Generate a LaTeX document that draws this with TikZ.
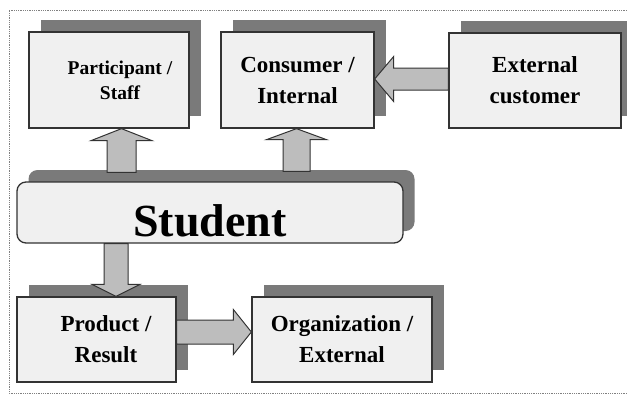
\documentclass[tikz,border=0pt]{standalone}
\usepackage{fontspec}
\setmainfont{Liberation Serif}
\usetikzlibrary{calc}
\usetikzlibrary{shadows}

\definecolor{boxfill}{HTML}{F0F0F0}
\definecolor{shadowgray}{HTML}{7A7A7A}
\definecolor{arrowfill}{HTML}{BDBDBD}
\definecolor{linegray}{HTML}{333333}

\tikzset{
  box/.style={draw=linegray, line width=1.3pt, fill=boxfill, inner sep=0pt,
    drop shadow={shadow xshift=11.5pt, shadow yshift=12pt, fill=shadowgray, opacity=1}},
  boxtext/.style={font=\bfseries\fontsize{23}{31}\selectfont, align=center},
  blockarrow/.style={draw=linegray, line width=1pt, fill=arrowfill, line join=miter},
  frame/.style={gray, densely dotted, line width=0.8pt}
}

\begin{document}
\begin{tikzpicture}[x=1pt, y=-1pt]
\newcommand{\BlockArrow}[5]{% tail, tip, shaft half width, head half width, head length
  \coordinate (hb) at ($(#2)!#5!(#1)$);
  \draw[blockarrow] ($(#1)!#3!90:(#2)$) -- ($(hb)!#3!90:(#2)$) -- ($(hb)!#4!90:(#2)$) -- (#2)
    -- ($(hb)!#4!-90:(#2)$) -- ($(hb)!#3!-90:(#2)$) -- ($(#1)!#3!-90:(#2)$) -- cycle;
}
\useasboundingbox (0,0) rectangle (627,397);

\draw[frame] (627,10) -- (9,10) -- (9,393) -- (627,393);% dotted frame

% top row
\node[box, minimum width=160pt, minimum height=96pt] (Participant) at (109,80) {};
\node[boxtext, font=\bfseries\fontsize{19.5}{25}\selectfont] (Participant-text) at ([xshift=11pt]Participant.center) {Participant /\\Staff};
\node[box, boxtext, minimum width=153pt, minimum height=96pt] (Consumer) at (297.5,80) {Consumer /\\Internal};
\node[box, boxtext, minimum width=172pt, minimum height=95pt] (External) at (535,80.5) {External\\customer};

% middle
\node[box, rounded corners=9pt, minimum width=386pt, minimum height=61pt] (Student) at (210,212.5) {};
\node[font=\bfseries\fontsize{46}{46}\selectfont] (Student-text) at ([yshift=-8pt]Student.center) {Student};

% bottom row
\node[box, minimum width=159pt, minimum height=85pt] (Product) at (96.5,339.5) {};
\node[boxtext] (Product-text) at ([xshift=9.5pt]Product.center) {Product /\\Result};
\node[box, boxtext, minimum width=180pt, minimum height=85pt] (Organization) at (342,339.5) {Organization /\\External};

% block arrows
\coordinate (ps-tip) at ([xshift=12.5pt]Participant.south);
\coordinate (ps-tail) at ([yshift=9pt]Student.north -| ps-tip);
\BlockArrow{ps-tail}{ps-tip}{14.5pt}{30.5pt}{12pt}% Student -> Participant

\coordinate (cs-tip) at ([xshift=-1pt]Consumer.south);
\coordinate (cs-tail) at ([yshift=10pt]Student.north -| cs-tip);
\BlockArrow{cs-tail}{cs-tip}{13.5pt}{30pt}{11pt}% Student -> Consumer

\coordinate (ec-tail) at ([yshift=1.5pt]External.west);
\coordinate (ec-tip) at (Consumer.east |- ec-tail);
\BlockArrow{ec-tail}{ec-tip}{11pt}{22.5pt}{19pt}% External -> Consumer

\coordinate (sp-tip) at ([xshift=19.5pt]Product.north);
\coordinate (sp-tail) at (Student.south -| sp-tip);
\BlockArrow{sp-tail}{sp-tip}{12pt}{24pt}{12pt}% Student -> Product

\coordinate (po-tail) at ([yshift=7.5pt]Product.east);
\coordinate (po-tip) at (Organization.west |- po-tail);
\BlockArrow{po-tail}{po-tip}{12pt}{22.5pt}{18pt}% Product -> Organization
\end{tikzpicture}
\end{document}
